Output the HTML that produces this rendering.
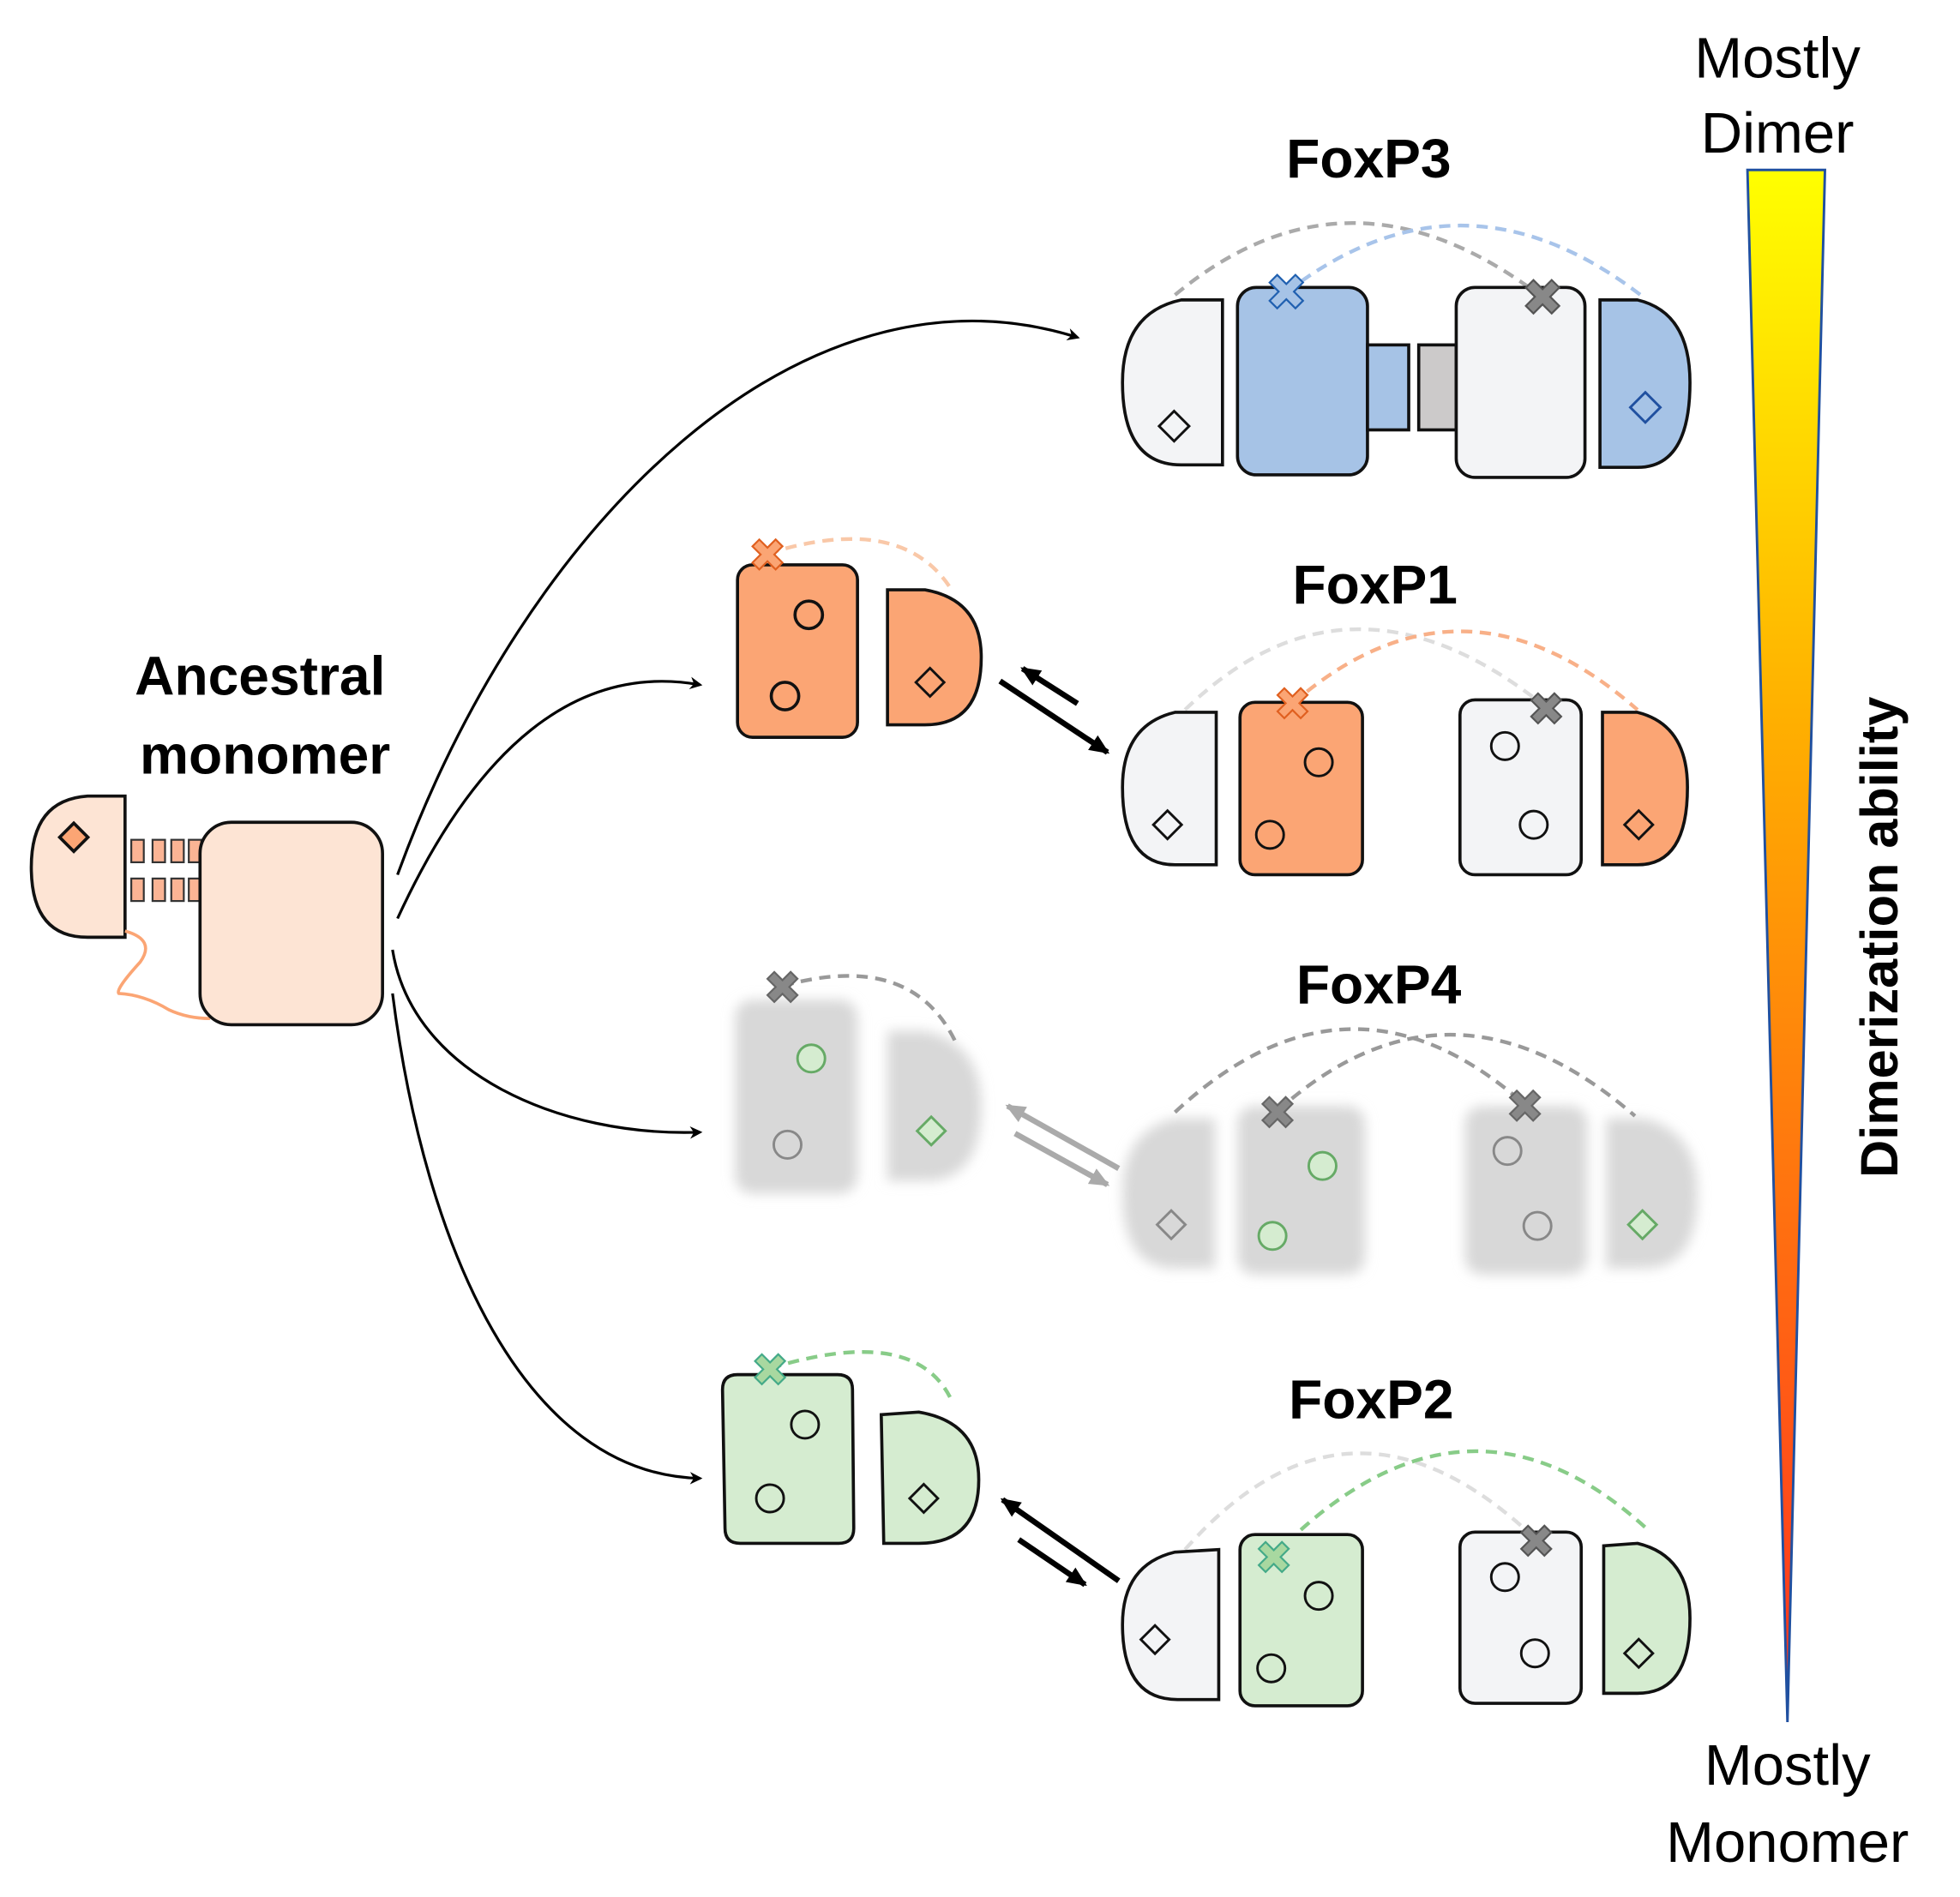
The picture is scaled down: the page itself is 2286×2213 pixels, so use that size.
<!DOCTYPE html>
<html><head><meta charset="utf-8"><style>html,body{margin:0;padding:0;background:#fff}svg{display:block}</style></head><body>
<svg width="2286" height="2213" viewBox="0 0 1568 1518" xmlns="http://www.w3.org/2000/svg" font-family="Liberation Sans, sans-serif">
<defs>
<linearGradient id="g" x1="0" y1="0" x2="0" y2="1"><stop offset="0" stop-color="#ffff00"/><stop offset="0.35" stop-color="#ffb000"/><stop offset="1" stop-color="#ff3020"/></linearGradient>
<marker id="ah" markerWidth="10" markerHeight="10" refX="8" refY="5" orient="auto" markerUnits="userSpaceOnUse"><path d="M0,0 L10,5 L0,10 L3,5 z" fill="#000"/></marker>
<marker id="ah2" markerWidth="16" markerHeight="14" refX="14" refY="7" orient="auto" markerUnits="userSpaceOnUse"><path d="M0,0 L16,7 L0,14 z" fill="#000"/></marker>
<marker id="ah3" markerWidth="16" markerHeight="14" refX="14" refY="7" orient="auto" markerUnits="userSpaceOnUse"><path d="M0,0 L16,7 L0,14 z" fill="#aaa"/></marker>
<filter id="bl"><feGaussianBlur stdDeviation="5"/></filter>
</defs>
<style>.o{stroke:#111;stroke-width:2.5}.d{fill:none;stroke-width:3;stroke-dasharray:9 6}</style>

<g font-size="46" text-anchor="middle">
<text x="1422" y="62">Mostly</text><text x="1422" y="122">Dimer</text>
<text x="1430" y="1428">Mostly</text><text x="1430" y="1490">Monomer</text>
</g>
<g font-weight="bold" font-size="44" text-anchor="middle">
<text x="1095" y="142">FoxP3</text><text x="1100" y="483">FoxP1</text><text x="1103" y="803">FoxP4</text><text x="1097" y="1135">FoxP2</text>
<text x="208" y="556">Ancestral</text><text x="212" y="619">monomer</text>
<text transform="translate(1518,750) rotate(-90)" font-size="42">Dimerization ability</text>
</g>
<polygon points="1398,136 1460,136 1430,1378" fill="url(#g)" stroke="#2050a0" stroke-width="2"/>

<path class="o" d="M100,637 L70,637 Q25,640 25,694 Q25,750 70,750 L100,750 Z" fill="#fde4d4"/>
<rect class="o" x="51" y="662" width="16" height="16" transform="rotate(45 59 670)" fill="#fba574" />
<g fill="#fbb494" stroke="#333" stroke-width="1.5">
<rect x="105" y="672" width="10" height="18"/><rect x="122" y="672" width="10" height="18"/><rect x="137" y="672" width="10" height="18"/><rect x="151" y="672" width="10" height="18"/>
<rect x="105" y="703" width="10" height="18"/><rect x="122" y="703" width="10" height="18"/><rect x="137" y="703" width="10" height="18"/><rect x="151" y="703" width="10" height="18"/>
</g>
<path d="M100,745 Q125,752 112,770 Q92,792 95,795 Q115,796 135,808 Q150,815 168,815" fill="none" stroke="#fba574" stroke-width="2.5"/>
<rect class="o" x="160" y="658" width="146" height="162" rx="25" fill="#fde4d4"/>

<g fill="none" stroke="#000" stroke-width="2.2" marker-end="url(#ah)">
<path d="M318,700 C420,420 640,200 862,270"/>
<path d="M318,735 C380,600 460,530 560,548"/>
<path d="M314,760 C330,860 450,910 560,906"/>
<path d="M314,795 C340,1000 420,1180 560,1183"/>
</g>

<path class="d" d="M940,236 Q1080,120 1234,238" stroke="#aaa"/>
<path class="d" d="M1029,234 Q1170,125 1315,238" stroke="#a8c4ea"/>
<path class="o" d="M978,240 L945,240 Q898,250 898,306 Q898,372 945,372 L978,372 Z" fill="#f3f4f6"/>
<rect class="o" x="990" y="230" width="104" height="150" rx="15" fill="#a6c3e6"/>
<rect class="o" x="1094" y="276" width="33" height="68" fill="#a6c3e6"/>
<rect class="o" x="1135" y="276" width="30" height="68" fill="#cccaca"/>
<rect class="o" x="1165" y="230" width="103" height="152" rx="15" fill="#f3f4f6"/>
<path class="o" d="M1280,240 L1310,240 Q1352,250 1352,306 Q1352,374 1310,374 L1280,374 Z" fill="#a6c3e6"/>
<rect x="931" y="333" width="17" height="17" transform="rotate(45 940 341)" fill="none" stroke="#111" stroke-width="2"/>
<rect x="1308" y="318" width="17" height="17" transform="rotate(45 1317 326)" fill="none" stroke="#2050a0" stroke-width="2"/>
<text x="1029" y="248" font-size="40" text-anchor="middle" fill="#a6c3e6" stroke="#2060b0" stroke-width="1.5">✖</text>
<text x="1234" y="252" font-size="40" text-anchor="middle" fill="#888" stroke="#555" stroke-width="1.5">✖</text>

<path class="d" d="M614,443 Q720,410 760,470" stroke="#f9c8a8"/>
<rect class="o" x="590" y="452" width="96" height="138" rx="12" fill="#fba574"/>
<path class="o" d="M710,472 L740,472 Q785,480 785,526 Q785,580 740,580 L710,580 Z" fill="#fba574"/>
<circle class="o" cx="647" cy="492" r="11" fill="none" stroke-width="2"/><circle class="o" cx="628" cy="557" r="11" fill="none" stroke-width="2"/>
<rect x="736" y="538" width="16" height="16" transform="rotate(45 744 546)" fill="none" stroke="#111" stroke-width="2"/>
<text x="614" y="457" font-size="36" text-anchor="middle" fill="#fba574" stroke="#e06020" stroke-width="1.5">✖</text>
<path class="d" d="M948,568 Q1080,440 1237,566" stroke="#ddd"/>
<path class="d" d="M1034,563 Q1170,445 1310,568" stroke="#f8b088"/>
<path class="o" d="M973,570 L940,570 Q898,580 898,630 Q898,692 940,692 L973,692 Z" fill="#f3f4f6"/>
<rect class="o" x="992" y="562" width="98" height="138" rx="12" fill="#fba574"/>
<rect class="o" x="1168" y="560" width="97" height="140" rx="12" fill="#f3f4f6"/>
<path class="o" d="M1282,570 L1310,570 Q1350,580 1350,630 Q1350,692 1310,692 L1282,692 Z" fill="#fba574"/>
<g fill="none" stroke="#111" stroke-width="2"><circle cx="1055" cy="610" r="11"/><circle cx="1016" cy="668" r="11"/><circle cx="1204" cy="597" r="11"/><circle cx="1227" cy="660" r="11"/>
<rect x="926" y="652" width="16" height="16" transform="rotate(45 934 660)"/><rect x="1303" y="652" width="16" height="16" transform="rotate(45 1311 660)"/></g>
<text x="1034" y="576" font-size="36" text-anchor="middle" fill="#fba574" stroke="#e06020" stroke-width="1.5">✖</text>
<text x="1237" y="580" font-size="36" text-anchor="middle" fill="#888" stroke="#555" stroke-width="1.5">✖</text>
<line x1="800" y1="545" x2="886" y2="602" stroke="#000" stroke-width="4.5" marker-end="url(#ah2)"/>
<line x1="862" y1="563" x2="818" y2="535" stroke="#000" stroke-width="4.5" marker-end="url(#ah2)"/>

<g filter="url(#bl)" fill="#d8d8d8">
<rect x="588" y="800" width="98" height="155" rx="14"/><path d="M710,825 L740,825 Q785,835 785,885 Q785,945 740,945 L710,945 Z"/>
<path d="M972,895 L940,895 Q898,905 898,955 Q898,1015 940,1015 L972,1015 Z"/>
<rect x="990" y="885" width="102" height="135" rx="14"/><rect x="1172" y="885" width="98" height="135" rx="14"/>
<path d="M1285,895 L1315,895 Q1358,905 1358,955 Q1358,1015 1315,1015 L1285,1015 Z"/>
</g>
<path class="d" d="M626,789 Q730,760 765,835" stroke="#999"/>
<path class="d" d="M940,890 Q1080,760 1220,884" stroke="#999"/>
<path class="d" d="M1022,889 Q1160,765 1308,893" stroke="#999"/>
<g stroke-width="2"><circle cx="649" cy="847" r="11" fill="#d5ecd0" stroke="#6a6"/><circle cx="630" cy="916" r="11" fill="none" stroke="#888"/>
<circle cx="1058" cy="933" r="11" fill="#d5ecd0" stroke="#6a6"/><circle cx="1018" cy="989" r="11" fill="#d5ecd0" stroke="#6a6"/>
<circle cx="1206" cy="921" r="11" fill="none" stroke="#888"/><circle cx="1230" cy="981" r="11" fill="none" stroke="#888"/>
<rect x="737" y="897" width="16" height="16" transform="rotate(45 745 905)" fill="#d5ecd0" stroke="#6a6"/>
<rect x="929" y="972" width="16" height="16" transform="rotate(45 937 980)" fill="none" stroke="#888"/>
<rect x="1306" y="972" width="16" height="16" transform="rotate(45 1314 980)" fill="#d5ecd0" stroke="#6a6"/></g>
<g font-size="36" text-anchor="middle" fill="#888" stroke="#666" stroke-width="1.5"><text x="626" y="803">✖</text><text x="1022" y="903">✖</text><text x="1220" y="898">✖</text></g>
<line x1="895" y1="935" x2="806" y2="885" stroke="#aaa" stroke-width="4.5" marker-end="url(#ah3)"/>
<line x1="812" y1="907" x2="886" y2="948" stroke="#aaa" stroke-width="4.5" marker-end="url(#ah3)"/>

<path class="d" d="M616,1095 Q730,1060 760,1118" stroke="#8c8"/>
<path class="o" d="M590,1100 L670,1100 Q682,1100 682,1112 L683,1223 Q683,1235 671,1235 L592,1235 Q580,1235 580,1223 L578,1112 Q578,1100 590,1100 Z" fill="#d5ecd0"/>
<path class="o" d="M705,1132 L735,1130 Q783,1138 783,1184 Q783,1235 735,1235 L707,1235 Z" fill="#d5ecd0"/>
<g fill="none" stroke="#111" stroke-width="2"><circle cx="644" cy="1140" r="11"/><circle cx="616" cy="1199" r="11"/><rect x="731" y="1191" width="16" height="16" transform="rotate(45 739 1199)"/></g>
<text x="616" y="1109" font-size="36" text-anchor="middle" fill="#a8d8a0" stroke="#4a8" stroke-width="1.5">✖</text>
<path class="d" d="M948,1240 Q1080,1090 1229,1232" stroke="#ddd"/>
<path class="d" d="M1019,1245 Q1170,1090 1316,1222" stroke="#8c8"/>
<path class="o" d="M975,1240 L940,1242 Q898,1252 898,1300 Q898,1360 942,1360 L975,1360 Z" fill="#f3f4f6"/>
<rect class="o" x="992" y="1228" width="98" height="137" rx="12" fill="#d5ecd0"/>
<rect class="o" x="1168" y="1226" width="97" height="137" rx="12" fill="#f3f4f6"/>
<path class="o" d="M1283,1237 L1310,1235 Q1352,1245 1352,1295 Q1352,1355 1310,1355 L1283,1355 Z" fill="#d5ecd0"/>
<g fill="none" stroke="#111" stroke-width="2"><circle cx="1055" cy="1277" r="11"/><circle cx="1017" cy="1335" r="11"/><circle cx="1204" cy="1262" r="11"/><circle cx="1228" cy="1323" r="11"/>
<rect x="916" y="1304" width="16" height="16" transform="rotate(45 924 1312)"/><rect x="1303" y="1315" width="16" height="16" transform="rotate(45 1311 1323)"/></g>
<text x="1019" y="1259" font-size="36" text-anchor="middle" fill="#a8d8a0" stroke="#4a8" stroke-width="1.5">✖</text>
<text x="1229" y="1246" font-size="36" text-anchor="middle" fill="#888" stroke="#555" stroke-width="1.5">✖</text>
<line x1="895" y1="1265" x2="802" y2="1200" stroke="#000" stroke-width="4.5" marker-end="url(#ah2)"/>
<line x1="815" y1="1232" x2="868" y2="1268" stroke="#000" stroke-width="4.5" marker-end="url(#ah2)"/>
</svg>
</body></html>
